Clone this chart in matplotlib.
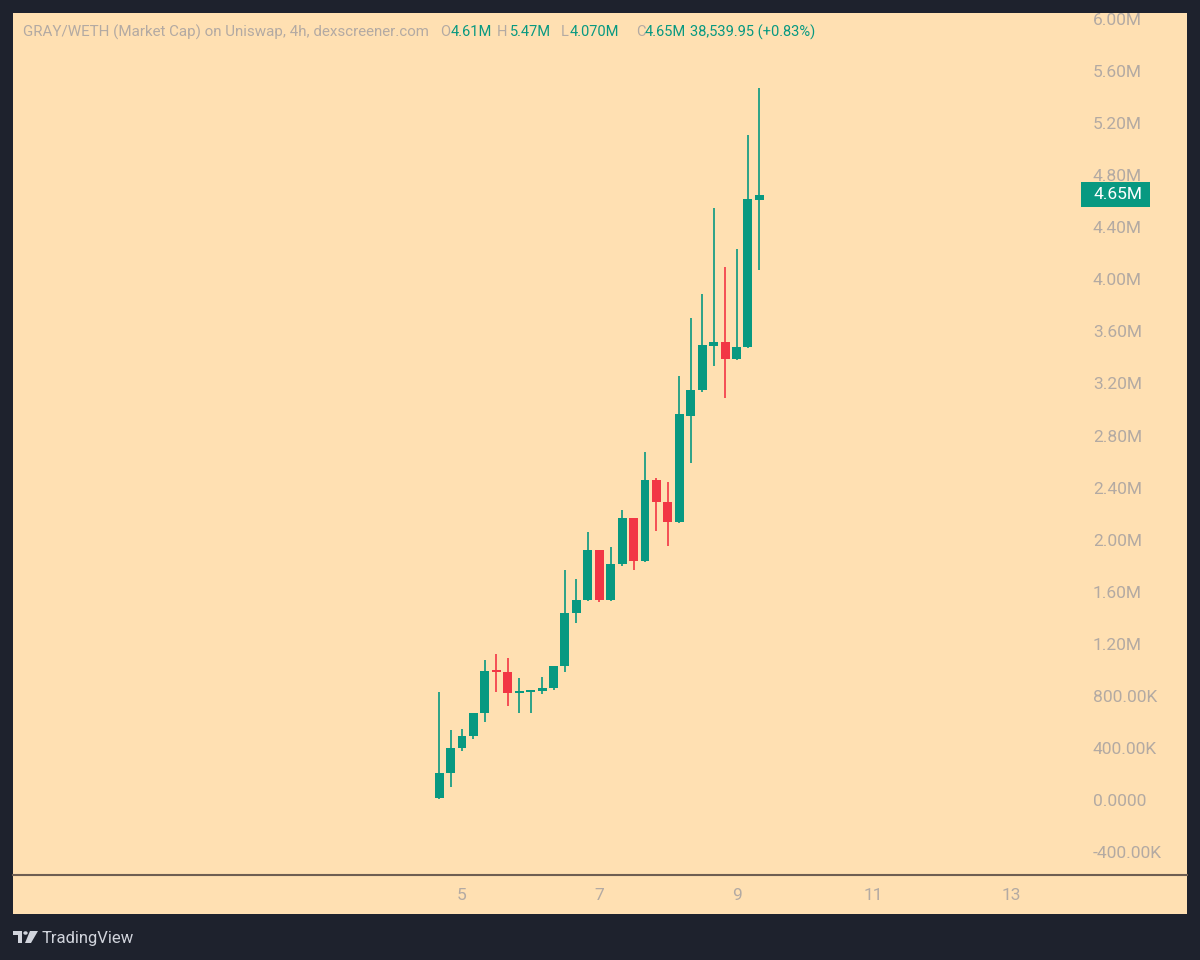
import numpy as np
import pandas as pd
import matplotlib
matplotlib.use("Agg")
import matplotlib.pyplot as plt
from matplotlib.patches import Rectangle, Polygon
from matplotlib.lines import Line2D
import matplotlib.transforms as mtransforms

plt.rcParams['font.family'] = ['Roboto', 'DejaVu Sans']

# DATOS: velas de 4h, capitalizacion de mercado en millones
times = pd.date_range('2024-01-04 16:00', periods=29, freq='4h')
opens = [0.013, 0.21, 0.397, 0.49, 0.666, 0.991, 0.98, 0.82, 0.83, 0.834,
         0.86, 1.03, 1.44, 1.536, 1.92, 1.536, 1.81, 2.164, 1.836, 2.458,
         2.287, 2.133, 2.95, 3.15, 3.49, 3.52, 3.39, 3.48, 4.61]
highs = [0.83, 0.538, 0.548, 0.67, 1.075, 1.12, 1.093, 0.94, 0.835, 0.947,
         1.03, 1.767, 1.698, 2.06, 1.92, 1.94, 2.228, 2.17, 2.676, 2.47,
         2.44, 3.257, 3.70, 3.885, 4.545, 4.097, 4.23, 5.11, 5.47]
lows = [0.01, 0.098, 0.379, 0.47, 0.60, 0.83, 0.724, 0.666, 0.666, 0.814,
        0.845, 0.981, 1.357, 1.53, 1.52, 1.53, 1.80, 1.767, 1.83, 2.067,
        1.954, 2.13, 2.59, 3.137, 3.334, 3.086, 3.38, 3.47, 4.07]
closes = [0.21, 0.397, 0.49, 0.666, 0.991, 0.98, 0.82, 0.83, 0.834, 0.86,
          1.03, 1.44, 1.536, 1.92, 1.536, 1.81, 2.164, 1.836, 2.458, 2.287,
          2.133, 2.965, 3.15, 3.495, 3.52, 3.39, 3.48, 4.62, 4.65]
last_price = 4.65
yticks = [-0.4, 0.0, 0.4, 0.8, 1.2, 1.6, 2.0, 2.4, 2.8, 3.2, 3.6, 4.0,
          4.4, 4.8, 5.2, 5.6, 6.0]
xticks = [5, 7, 9, 11, 13]

# colores
BG_DARK = '#1e222d'
PANEL = '#ffe0b2'
GREEN = '#089981'
RED = '#f23645'
AXIS_TXT = '#b3aaa3'

W, H = 1200, 960
fig = plt.figure(figsize=(12, 9.6), dpi=100, facecolor=BG_DARK)

def fx(px):
    return px / W

def fy(py):
    return 1 - py / H

# panel claro
fig.add_artist(Rectangle((fx(13), fy(914)), fx(1187) - fx(13), fy(13) - fy(914),
                         transform=fig.transFigure, facecolor=PANEL,
                         edgecolor='none', zorder=0))

ax = fig.add_axes([fx(13), fy(875), fx(1081) - fx(13), fy(13) - fy(875)])
ax.set_facecolor('none')
for s in ax.spines.values():
    s.set_visible(False)

x = np.array(times.day + times.hour / 24.0)
width = 0.13
for xi, o, h, l, c in zip(x, opens, highs, lows, closes):
    col = GREEN if c >= o else RED
    ax.vlines(xi, l, h, color=col, linewidth=1.2, zorder=2)
    bottom = min(o, c)
    height = max(abs(c - o), 0.018)
    ax.add_patch(Rectangle((xi - width / 2, bottom), width, height,
                           facecolor=col, edgecolor='none', zorder=3))

ax.set_xlim(-1.543, 14.02)
ax.set_ylim(-0.576, 6.046)

def fmt_y(v):
    if abs(v) < 1e-9:
        return '0.0000'
    if abs(v) < 1.0:
        return '%.2fK' % (v * 1000)
    return '%.2fM' % v

ax.yaxis.tick_right()
ax.set_yticks(yticks)
ax.set_yticklabels([fmt_y(v) for v in yticks])
ax.set_xticks(xticks)
ax.set_xticklabels([str(t) for t in xticks])
ax.tick_params(axis='y', length=0, pad=8.5, labelsize=12.5, labelcolor=AXIS_TXT)
ax.tick_params(axis='x', length=0, pad=9, labelsize=12.5, labelcolor=AXIS_TXT)
for lab in ax.get_yticklabels():
    lab.set_horizontalalignment('left')

# etiqueta del ultimo precio
trans = mtransforms.blended_transform_factory(ax.transAxes, ax.transData)
box_w = 69 / (1081 - 13)
ax.add_patch(Rectangle((1.0, last_price - 0.096), box_w, 0.192, transform=trans,
                       facecolor=GREEN, edgecolor='none', clip_on=False, zorder=5))
ax.text(1.0 + 12 / (1081 - 13), last_price, '%.2fM' % last_price, transform=trans,
        ha='left', va='center', color='white', fontsize=12.5, zorder=6,
        clip_on=False)

# linea separadora del eje de tiempo
fig.add_artist(Line2D([fx(13), fx(1187)], [fy(875), fy(875)],
                      transform=fig.transFigure, color='#6e5e52', linewidth=1.5))

# encabezado
hy = fy(32)
fig.text(fx(23), hy, 'GRAY/WETH (Market Cap) on Uniswap, 4h, dexscreener.com',
         color=AXIS_TXT, fontsize=10.9, va='center')
header = [(440, 'O', AXIS_TXT), (451, '4.61M', GREEN), (497, 'H', AXIS_TXT),
          (510, '5.47M', GREEN), (561, 'L', AXIS_TXT), (570, '4.070M', GREEN),
          (636, 'C', AXIS_TXT), (645, '4.65M', GREEN),
          (690, '38,539.95 (+0.83%)', GREEN)]
for px, txt, col in header:
    fig.text(fx(px), hy, txt, color=col, fontsize=10.5, va='center')

# logo TradingView
logo = '#d1d4dc'
fig.add_artist(Polygon([(fx(13), fy(931)), (fx(22), fy(931)), (fx(22), fy(943)),
                        (fx(18), fy(943)), (fx(18), fy(935)), (fx(13), fy(935))],
                       closed=True, transform=fig.transFigure, facecolor=logo,
                       edgecolor='none'))
fig.add_artist(plt.Circle((fx(25.5), fy(933)), 2.2 / W, transform=fig.transFigure,
                          facecolor=logo, edgecolor='none'))
fig.add_artist(Polygon([(fx(30), fy(931)), (fx(38), fy(931)), (fx(31), fy(943)),
                        (fx(25), fy(943))],
                       closed=True, transform=fig.transFigure, facecolor=logo,
                       edgecolor='none'))
fig.text(fx(42), fy(938), 'TradingView', color=logo, fontsize=12, va='center')

fig.savefig('out.png', dpi=100, facecolor=BG_DARK)
